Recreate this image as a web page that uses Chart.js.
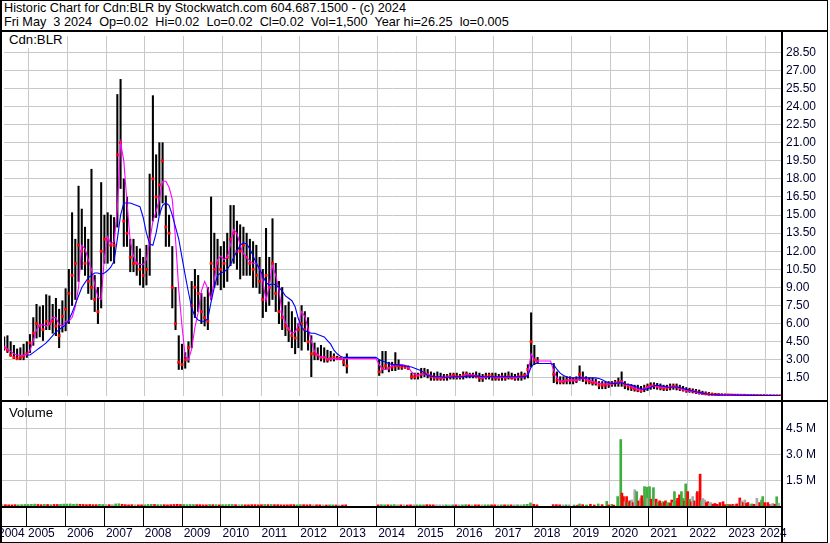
<!DOCTYPE html>
<html><head><meta charset="utf-8">
<script src="https://cdn.jsdelivr.net/npm/chart.js"></script>
<style>
html,body{margin:0;padding:0;background:#fff;}
#wrap{position:relative;width:830px;height:543px;overflow:hidden;background:#fff;font-family:"Liberation Sans",Arial,sans-serif;}
.t{position:absolute;left:4px;font-size:12.7px;line-height:14px;white-space:pre;color:#000;}
canvas{position:absolute;left:0;}
.ln{position:absolute;background:#000;}
</style></head>
<body><div id="wrap">
<div class="t" style="top:1px">Historic Chart for Cdn:BLR by Stockwatch.com 604.687.1500 - (c) 2024</div>
<div class="t" style="top:15px">Fri May  3 2024  Op=0.02  Hi=0.02  Lo=0.02  Cl=0.02  Vol=1,500  Year hi=26.25  lo=0.005</div>
<canvas id="pc" style="top:32px" width="830" height="368"></canvas>
<canvas id="vc" style="top:402px" width="830" height="141"></canvas>
<div class="t" style="top:32px;left:2px;width:57px;height:16px;line-height:16px;padding-left:7px;background:#fff;font-size:13.2px">Cdn:BLR</div>
<div class="t" style="top:406px;left:9px;font-size:13.2px">Volume</div>
<div class="ln" style="left:0;top:30px;width:828px;height:2px"></div>
<div class="ln" style="left:0;top:400px;width:828px;height:2px"></div>
<div class="ln" style="left:0;top:506px;width:782px;height:2px"></div>
<div class="ln" style="left:0;top:526px;width:782px;height:1px"></div>
<div class="ln" style="left:781px;top:30px;width:2px;height:513px"></div>
<div style="position:absolute;left:0;top:0;width:828px;height:543px;box-sizing:border-box;border:1px solid #000;border-left-width:2px;pointer-events:none"></div>
</div>
<script>
// ---------- data (monthly, May 2004 .. May 2024) ----------
const high = [
 4.9,5.0,4.5,4.2,3.9,4.0,4.3,4.5,
 5.1,6.5,7.6,7.4,7.5,8.4,8.3,7.6,8.1,7.2,7.9,8.9,
 10.5,15.2,13.0,17.4,15.5,14.0,13.0,18.8,10.0,9.0,17.7,15.0,
 15.2,15.0,14.8,25.0,26.25,18.0,16.5,13.0,13.0,12.4,12.2,11.5,
 12.5,18.4,24.9,20.0,21.0,21.0,16.6,15.0,12.4,9.0,5.0,4.3,
 3.6,4.5,9.5,10.5,10.0,8.5,8.2,9.0,16.5,13.5,13.0,12.4,
 12.8,13.5,15.8,15.8,14.5,14.2,14.0,13.5,13.0,12.8,12.5,11.5,
 10.5,13.9,11.5,14.7,11.0,9.5,9.0,7.5,7.8,7.0,6.5,6.0,
 7.5,7.0,6.5,5.0,4.4,4.0,4.2,4.0,3.8,3.7,3.5,3.3,
 3.2,3.1,3.5,null,null,null,null,null,null,null,null,null,
 3.0,3.7,3.7,2.8,2.8,3.6,3.0,2.6,2.5,2.5,1.9,1.9,
 1.9,2.3,2.3,2.2,2.0,1.9,2.0,1.9,1.8,1.8,1.9,1.9,
 1.9,1.8,2.0,2.0,1.9,1.9,2.0,1.9,1.8,1.9,1.9,1.9,
 1.9,1.8,1.9,1.9,2.0,1.9,1.8,1.9,2.0,1.9,2.6,6.9,
 4.2,3.2,null,null,null,null,2.7,2.0,1.6,1.6,1.6,1.6,
 1.5,1.6,2.5,2.0,1.6,1.5,1.5,1.4,1.2,1.2,1.2,1.2,
 1.2,1.3,1.5,2.0,1.2,1.0,0.95,0.9,0.9,0.8,0.9,1.0,
 1.1,1.1,1.05,1.0,0.9,0.9,1.0,1.0,1.0,0.9,0.8,0.7,
 0.65,0.6,0.55,0.5,0.4,0.35,0.3,0.25,0.22,0.2,0.18,0.16,
 0.15,0.14,0.13,0.12,0.12,0.11,0.1,0.1,0.09,0.08,0.08,0.07,
 0.06,0.05,0.05,0.04,0.02];
const low = [
 3.8,3.6,3.3,3.1,3.0,3.0,3.0,3.2,
 3.6,4.2,4.8,4.9,4.6,5.5,5.5,5.2,5.0,4.0,5.3,5.4,
 6.0,7.5,8.0,9.5,10.5,10.0,8.5,8.0,7.0,6.0,7.3,11.0,
 11.0,11.2,11.0,14.0,17.2,12.4,12.4,10.3,10.3,10.0,9.2,9.0,
 9.2,10.0,14.5,14.8,15.0,16.0,12.4,12.4,7.3,5.5,2.2,2.2,
 2.3,2.8,4.0,6.5,7.0,6.0,5.8,5.5,8.0,9.0,9.2,8.8,
 9.0,9.5,10.8,11.0,10.5,9.7,10.0,10.0,10.0,9.0,9.0,8.5,
 6.5,7.0,7.5,8.0,7.0,6.0,5.5,5.0,4.5,4.0,3.5,4.0,
 3.8,4.5,3.8,1.6,3.0,3.0,2.9,2.8,2.8,2.9,2.9,3.0,
 3.0,2.5,1.9,null,null,null,null,null,null,null,null,null,
 1.7,1.9,2.2,2.0,2.1,2.1,2.2,2.2,2.3,2.2,1.4,1.4,
 1.4,1.5,1.6,1.5,1.3,1.3,1.3,1.3,1.3,1.3,1.4,1.4,
 1.4,1.4,1.4,1.5,1.5,1.5,1.5,1.2,1.2,1.4,1.4,1.3,
 1.3,1.3,1.3,1.3,1.4,1.4,1.3,1.3,1.3,1.4,1.5,2.4,
 2.6,2.7,null,null,null,null,1.1,1.0,1.0,1.0,1.0,1.0,
 1.0,1.1,1.3,1.2,1.0,1.0,0.9,0.9,0.6,0.6,0.6,0.7,
 0.8,0.8,0.8,0.8,0.6,0.5,0.45,0.4,0.35,0.3,0.35,0.45,
 0.55,0.6,0.55,0.5,0.45,0.45,0.5,0.55,0.5,0.45,0.4,0.3,
 0.3,0.25,0.2,0.15,0.12,0.1,0.08,0.07,0.06,0.05,0.05,0.05,
 0.05,0.05,0.04,0.04,0.04,0.04,0.03,0.03,0.03,0.03,0.02,0.02,
 0.02,0.01,0.01,0.005,0.02];
const close = [
 4.0,3.8,3.4,3.2,3.1,3.2,3.3,3.5,
 4.4,5.2,6.0,5.8,5.5,6.2,6.0,6.2,5.8,5.0,6.6,7.2,
 8.5,10.0,11.0,12.5,12.0,11.0,9.5,9.0,8.0,7.0,12.0,13.0,
 13.0,12.5,12.5,20.0,21.0,14.5,13.5,11.5,11.0,11.0,10.5,10.0,
 10.5,13.0,18.0,16.5,17.5,19.5,14.0,13.5,9.0,6.0,2.8,2.6,
 3.0,4.0,7.5,9.0,8.5,7.0,6.5,6.2,11.0,10.5,11.0,10.5,
 11.0,11.5,13.0,13.5,12.0,12.0,12.5,11.5,11.0,10.5,10.0,9.5,
 8.0,10.0,9.0,11.0,8.5,7.0,6.5,5.8,5.5,5.0,4.8,5.5,
 6.0,5.5,4.5,3.5,3.5,3.4,3.2,3.2,3.0,3.1,3.2,3.1,
 3.1,2.8,2.5,null,null,null,null,null,null,null,null,null,
 2.0,2.3,2.5,2.3,2.4,2.5,2.5,2.4,2.4,2.3,1.6,1.6,
 1.7,1.8,1.9,1.8,1.6,1.5,1.5,1.5,1.5,1.6,1.6,1.7,
 1.6,1.6,1.7,1.8,1.7,1.7,1.6,1.5,1.5,1.6,1.7,1.6,
 1.5,1.5,1.6,1.5,1.6,1.5,1.5,1.6,1.6,1.7,2.2,4.5,
 3.0,2.9,null,null,null,null,1.8,1.3,1.2,1.2,1.3,1.3,
 1.3,1.3,1.8,1.5,1.3,1.2,1.1,1.1,0.9,0.9,0.9,1.0,
 1.0,1.1,1.1,1.2,0.9,0.8,0.7,0.6,0.5,0.45,0.6,0.75,
 0.85,0.85,0.8,0.7,0.65,0.65,0.75,0.8,0.75,0.65,0.55,0.45,
 0.45,0.4,0.35,0.28,0.22,0.18,0.14,0.12,0.1,0.09,0.08,0.08,
 0.08,0.08,0.07,0.07,0.06,0.06,0.05,0.05,0.05,0.04,0.04,0.04,
 0.03,0.03,0.02,0.02,0.02];
const maFast = [
 4.1,3.9,3.7,3.5,3.4,3.35,3.4,3.4,
 3.8,4.6,5.5,5.9,5.9,5.8,6.0,6.5,6.5,5.9,5.8,6.2,
 6.2,6.5,7.4,9.0,12.5,12.2,11.3,10.5,9.3,8.2,8.0,11.5,
 13.2,12.6,12.8,15.5,21.0,19.5,16.0,12.8,11.6,11.0,10.9,10.9,
 11.3,12.8,14.5,15.3,16.3,17.8,17.8,17.3,16.3,13.0,8.8,5.8,
 3.3,3.0,3.9,5.7,6.9,8.7,9.5,8.9,8.0,9.7,11.3,11.6,
 11.3,11.5,12.5,13.8,13.5,12.5,11.8,11.5,11.2,11.0,11.0,10.6,
 9.5,7.9,9.2,10.8,10.0,8.8,6.8,6.1,5.6,5.2,5.3,5.8,
 7.0,6.6,5.6,4.6,3.7,3.4,3.2,3.2,3.1,3.1,3.1,3.1,
 3.1,3.1,3.1,3.1,3.1,3.1,3.1,3.1,3.1,3.1,3.1,3.1,
 2.6,2.2,2.2,2.3,2.5,2.6,2.6,2.6,2.55,2.4,2.0,1.8,
 1.7,1.8,1.85,1.8,1.7,1.6,1.55,1.5,1.5,1.55,1.6,1.6,
 1.6,1.6,1.65,1.75,1.75,1.7,1.7,1.6,1.5,1.55,1.6,1.6,
 1.55,1.5,1.55,1.55,1.55,1.55,1.5,1.55,1.6,1.6,1.8,3.5,
 3.0,2.9,2.9,2.9,2.9,2.9,2.1,1.5,1.2,1.25,1.3,1.3,
 1.3,1.3,1.4,1.5,1.4,1.3,1.2,1.1,1.05,1.0,1.0,1.0,
 1.0,1.05,1.1,1.22,1.0,0.9,0.8,0.65,0.55,0.5,0.6,0.75,
 0.8,0.85,0.8,0.72,0.68,0.68,0.72,0.75,0.72,0.62,0.55,0.45,
 0.42,0.38,0.3,0.24,0.2,0.16,0.13,0.11,0.1,0.09,0.08,0.08,
 0.08,0.08,0.07,0.07,0.06,0.06,0.05,0.05,0.05,0.04,0.04,0.04,
 0.03,0.03,0.025,0.02,0.02];
const maSlow = [
 null,null,null,null,null,null,null,3.4,
 3.4,3.6,3.8,4.0,4.2,4.4,4.7,5.0,5.3,5.5,5.7,5.9,
 6.3,6.9,7.6,8.3,9.0,9.4,9.8,10.0,10.2,10.2,10.1,10.2,
 10.4,10.7,11.2,13.0,15.0,16.0,16.0,16.0,15.9,15.8,15.7,14.8,
 13.5,12.6,12.5,13.5,15.0,15.8,16.0,15.8,15.0,14.0,13.0,11.5,
 10.0,8.6,7.3,6.6,6.3,6.2,6.2,6.4,7.8,9.0,10.0,10.2,
 10.3,10.5,10.9,11.5,12.0,12.5,12.7,12.6,12.2,11.6,11.0,10.5,
 10.0,9.4,9.2,9.3,9.2,9.0,8.7,8.3,8.1,7.9,7.4,6.4,
 5.7,5.4,5.3,5.2,5.2,5.1,5.0,4.9,4.6,4.3,3.8,3.5,
 3.3,3.2,3.2,3.2,3.2,3.2,3.2,3.2,3.2,3.2,3.2,3.2,
 3.0,2.9,2.8,2.7,2.6,2.6,2.6,2.5,2.5,2.45,2.4,2.3,
 2.2,2.1,1.9,1.7,1.65,1.6,1.6,1.6,1.55,1.55,1.55,1.6,
 1.6,1.6,1.6,1.65,1.65,1.65,1.65,1.65,1.6,1.6,1.6,1.6,
 1.6,1.6,1.6,1.6,1.6,1.6,1.6,1.6,1.6,1.6,1.7,2.4,
 2.7,2.7,2.7,2.7,2.7,2.7,2.6,2.2,1.9,1.7,1.6,1.5,
 1.5,1.5,1.5,1.5,1.5,1.5,1.5,1.5,1.45,1.35,1.2,1.1,
 1.05,1.05,1.08,1.1,1.0,0.95,0.9,0.8,0.7,0.6,0.55,0.6,
 0.7,0.85,0.89,0.85,0.8,0.75,0.73,0.75,0.75,0.7,0.62,0.55,
 0.5,0.42,0.35,0.3,0.24,0.19,0.15,0.12,0.1,0.09,0.085,0.08,
 0.08,0.08,0.075,0.07,0.065,0.06,0.055,0.05,0.05,0.045,0.045,0.04,
 0.04,0.035,0.03,0.03,0.025];
// monthly volume (millions) May 2004 .. Dec 2018
const volEarly = [
 .09,.08,.07,.07,.08,.07,.08,.09,
 .09,.10,.11,.09,.08,.10,.09,.08,.09,.09,.10,.11,
 .11,.12,.10,.11,.10,.09,.08,.09,.08,.08,.10,.09,
 .09,.08,.08,.12,.13,.10,.08,.07,.08,.08,.07,.07,
 .07,.09,.10,.09,.08,.08,.08,.07,.08,.09,.10,.09,
 .09,.08,.09,.09,.08,.08,.07,.07,.09,.08,.08,.07,
 .08,.08,.09,.09,.08,.08,.08,.07,.07,.08,.08,.07,
 .08,.09,.08,.09,.08,.08,.07,.07,.07,.08,.08,.07,
 .08,.08,.07,.08,.07,.07,.07,.07,.06,.07,.07,.06,
 .06,.06,.07,null,null,null,null,null,null,null,null,null,
 .07,.08,.07,.07,.07,.08,.07,.07,.07,.06,.07,.07,
 .07,.07,.07,.08,.07,.07,.07,.07,.07,.07,.07,.07,
 .07,.07,.07,.08,.07,.07,.07,.07,.07,.07,.07,.07,
 .07,.07,.07,.07,.07,.07,.07,.07,.07,.08,.10,.18,
 .10,.07,null,null,null,null,.08,.08,.07,.07,.07,.07];
// finer volume readings 2019 .. May 2024 (decimal year, millions, u/d/n)
const volDate = [2019.08,2019.17,2019.22,2019.30,2019.40,2019.50,2019.60,2019.70,2019.80,2019.92,2019.97,
 2020.05,2020.10,2020.20,2020.28,2020.31,2020.35,2020.39,2020.43,2020.47,2020.51,2020.56,2020.60,2020.64,2020.69,2020.74,2020.79,2020.82,2020.86,2020.89,2020.95,2020.97,
 2021.02,2021.07,2021.12,2021.16,2021.19,2021.23,2021.28,2021.32,2021.36,2021.40,2021.43,2021.47,2021.51,2021.55,2021.59,2021.63,2021.66,2021.70,2021.74,2021.79,2021.84,2021.88,2021.92,2021.95,2022.00,
 2022.05,2022.09,2022.13,2022.18,2022.23,2022.25,2022.32,2022.35,2022.39,2022.44,2022.48,2022.52,2022.56,2022.60,2022.65,2022.70,2022.76,2022.83,2022.91,2022.97,
 2023.03,2023.09,2023.16,2023.21,2023.26,2023.34,2023.39,2023.43,2023.47,2023.51,2023.55,2023.61,2023.65,2023.71,2023.78,2023.85,2023.90,2023.93,2023.98,
 2024.06,2024.11,2024.14,2024.19,2024.24,2024.29,2024.34];
const volAmt = [.06,.05,.12,.08,.06,.10,.06,.12,.08,.27,.06,
 .10,.05,.55,3.88,.75,.55,.25,.55,.20,.30,.35,.20,.95,.84,.30,.44,.60,.30,1.13,1.10,.44,
 1.13,.40,1.07,.25,.40,.20,.30,.15,.25,.20,.30,.15,.20,.15,.35,.20,.84,.30,.45,.65,.84,.45,.30,1.29,.84,
 .40,.25,.55,.30,.75,.84,1.86,.30,.44,.35,.20,.25,.15,.20,.10,.15,.10,.20,.25,.08,
 .10,.08,.10,.08,.12,.47,.30,.20,.35,.15,.20,.10,.12,.10,.45,.20,.35,.55,.20,
 .20,.10,.10,.15,.10,.54,.15];
const volDir = ['u','d','u','d','u','d','d','u','d','u','d',
 'u','d','u','u','d','d','n','d','u','d','n','d','n','u','d','n','d','d','u','u','n',
 'u','d','u','n','d','u','d','d','u','d','d','u','u','d','d','n','u','u','d','d','u','u','d','u','d',
 'u','d','n','d','n','d','d','u','n','n','d','d','n','n','d','d','d','d','d','d',
 'u','d','d','n','d','d','n','d','n','d','d','n','u','d','n','d','u','u','d',
 'd','d','n','n','d','u','n'];
const priceTicks = [1.5,3,4.5,6,7.5,9,10.5,12,13.5,15,16.5,18,19.5,21,22.5,24,25.5,27,28.5];
const volTicks = [1.5,3.0,4.5];
const yearLabels = ['2004','2005','2006','2007','2008','2009','2010','2011','2012','2013','2014','2015','2016','2017','2018','2019','2020','2021','2022','2023','2024'];

// ---------- layout / style ----------
const X_MIN = 2004.37, X_MAX = 2024.40, AREA_LEFT = 2, AREA_W = 779;
const PX_PER_YEAR = AREA_W / (X_MAX - X_MIN);
const PRICE_MAX = 368 / 12.33;
const VOL_MAX = 104 / 17.13;
const GRID = '#c8c8c8', LABEL = '#000030';
const COL = {u:'#3fae3f', d:'#ff0000', n:'#a8a8a8'};

Chart.defaults.font.family = "'Liberation Sans', Arial, sans-serif";
Chart.defaults.font.size = 12;
Chart.defaults.color = LABEL;

const monthX = high.map((_, i) => 2004 + (4 + i + 0.5) / 12);
const yearLines = yearLabels.slice(1).map(Number);
const labelPos = yearLabels.map((y, i) => {
  if (i === 0) return X_MIN + (-2 - AREA_LEFT) / PX_PER_YEAR;
  if (i === yearLabels.length - 1) return X_MIN + (760 - AREA_LEFT) / PX_PER_YEAR;
  return Number(y) + 1.6 / PX_PER_YEAR;
});

const bars = [], closes = [], fast = [], slow = [];
monthX.forEach((x, i) => {
  if (high[i] != null) bars.push({x, y: [low[i], high[i]]});
  if (close[i] != null) closes.push({x, y: close[i]});
  if (maFast[i] != null) fast.push({x, y: maFast[i]});
  if (maSlow[i] != null) slow.push({x, y: maSlow[i]});
});
const vols = [], volCols = [];
let prev = null;
volEarly.forEach((v, i) => {
  if (v == null) return;
  const c = close[i];
  vols.push({x: monthX[i], y: v});
  volCols.push(prev == null || c === prev ? COL.n : (c > prev ? COL.u : COL.d));
  prev = c;
});
volDate.forEach((x, i) => { vols.push({x, y: volAmt[i]}); volCols.push(COL[volDir[i]]); });

const zeroPad = s => { s.paddingLeft = 0; s.paddingRight = 0; s.paddingTop = 0; s.paddingBottom = 0; };
const base = {
  responsive: false, animation: false, devicePixelRatio: 1, events: [],
  layout: {padding: {left: AREA_LEFT, right: 0, top: 0, bottom: 0}},
  plugins: {legend: {display: false}, tooltip: {enabled: false}, title: {display: false}}
};
const xGrid = (extra) => Object.assign({
  type: 'linear', min: X_MIN, max: X_MAX, offset: false,
  afterBuildTicks: s => { s.ticks = yearLines.map(v => ({value: v})); },
  border: {display: false},
  ticks: {display: false}
}, extra);

new Chart(document.getElementById('pc'), {
  type: 'bar',
  data: {datasets: [
    {type: 'line', data: slow, borderColor: '#0000ff', borderWidth: 1.1, pointRadius: 0, tension: 0},
    {type: 'line', data: fast, borderColor: '#ff00ff', borderWidth: 1.1, pointRadius: 0, tension: 0},
    {type: 'line', data: closes, showLine: false, pointStyle: 'rect', pointRadius: 2,
     pointBackgroundColor: '#ff0000', pointBorderWidth: 0},
    {type: 'bar', data: bars, backgroundColor: '#000000', barThickness: 1.4, borderWidth: 0}
  ]},
  options: Object.assign({}, base, {
    scales: {
      x: xGrid({grid: {color: GRID, drawTicks: false, offset: false},
                afterFit: s => { s.height = 0; zeroPad(s); }}),
      y: {position: 'right', min: 0, max: PRICE_MAX,
          afterBuildTicks: s => { s.ticks = priceTicks.map(v => ({value: v})); },
          grid: {color: GRID, drawTicks: false},
          border: {display: false},
          ticks: {padding: 5, autoSkip: false, color: LABEL, callback: v => Number(v).toFixed(2)},
          afterFit: s => { s.width = 49; zeroPad(s); }}
    }
  })
});

new Chart(document.getElementById('vc'), {
  type: 'bar',
  data: {datasets: [
    {type: 'bar', data: vols, backgroundColor: volCols, barThickness: 2, borderWidth: 0}
  ]},
  options: Object.assign({}, base, {
    scales: {
      x: xGrid({weight: 0, position: 'bottom',
                grid: {color: GRID, drawTicks: true, tickLength: 20, tickColor: '#000000', tickWidth: 1, offset: false},
                afterFit: s => { s.height = 20; zeroPad(s); }}),
      x2: {type: 'linear', position: 'bottom', weight: 1, min: X_MIN, max: X_MAX, offset: false,
           afterBuildTicks: s => { s.ticks = labelPos.map(v => ({value: v})); },
           grid: {display: false, drawTicks: false},
           border: {display: false},
           ticks: {align: 'start', autoSkip: false, maxRotation: 0, minRotation: 0, padding: 0,
                   color: LABEL, callback: (v, i) => yearLabels[i]},
           afterFit: s => { s.height = 17; zeroPad(s); }},
      y: {position: 'right', min: 0, max: VOL_MAX,
          afterBuildTicks: s => { s.ticks = volTicks.map(v => ({value: v})); },
          grid: {color: GRID, drawTicks: false},
          border: {display: false},
          ticks: {padding: 5, autoSkip: false, color: LABEL, callback: v => Number(v).toFixed(1) + ' M'},
          afterFit: s => { s.width = 49; zeroPad(s); }}
    }
  })
});
</script>
</body></html>
